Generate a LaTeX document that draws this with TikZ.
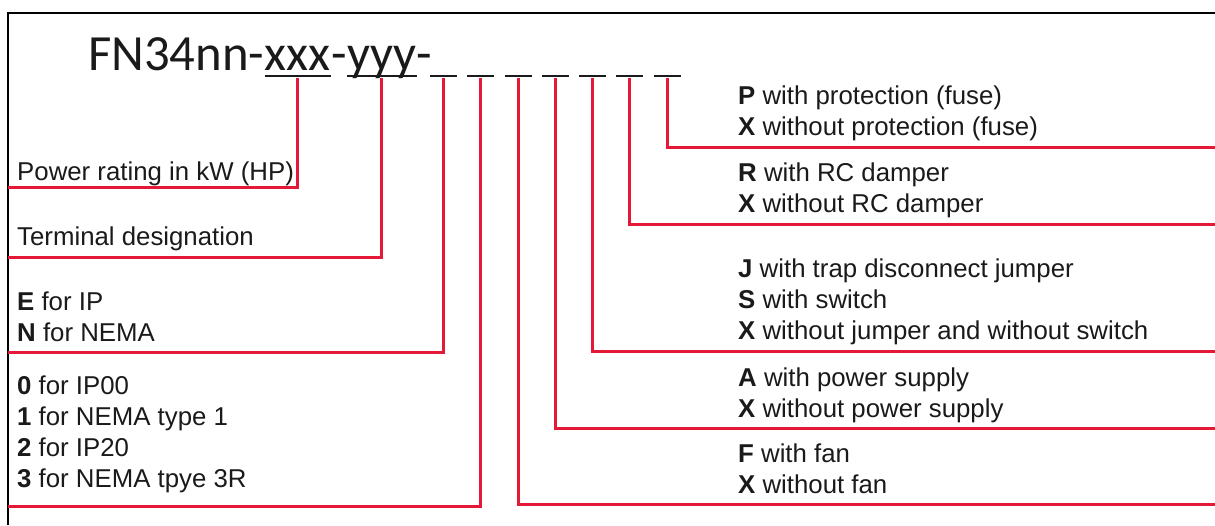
\documentclass[tikz,border=0pt]{standalone}
\usepackage{fontspec}
\setmainfont{Liberation Sans}
\newfontfamily\titlefont{Carlito}
\usetikzlibrary{calc}
\definecolor{codered}{HTML}{E31937}
\definecolor{ink}{HTML}{1A1A1A}
\begin{document}
\begin{tikzpicture}[x=1pt,y=-1pt,
  lbl/.style={anchor=base west,inner sep=0pt,font=\fontsize{25.8}{31}\selectfont,text=ink},
  ttl/.style={anchor=base west,inner sep=0pt,font=\titlefont\fontsize{50.7}{60}\selectfont,text=ink},
  lead/.style={draw=codered,line width=3pt},
  uline/.style={draw=ink,line width=2.5pt},
  frame/.style={draw=black,line width=2.5pt}]
\useasboundingbox (0,0) rectangle (1215,525);
% frame
\draw[frame] (8,525) -- (8,13) -- (1215,13);
% title
\node[ttl] (t1) at (88,70) {FN34nn-};
\node[ttl] (xxx) at (t1.base east) {xxx};
\node[ttl] (t2) at (xxx.base east) {-};
\node[ttl] (yyy) at (t2.base east) {yyy};
\node[ttl] (t3) at (yyy.base east) {-};
\draw[uline] ($(xxx.base west)+(0,6)$) -- ($(xxx.base east)+(0,6)$);
\draw[uline] ($(yyy.base west)+(0,6)$) -- ($(yyy.base east)+(0,6)$);
\coordinate (ux) at ($(xxx.base)+(0,7.5)$);
\coordinate (uy) at ($(yyy.base)+(0,7.5)$);
% blank positions
\foreach \i in {1,...,7}{
  \coordinate (d\i) at ({443.5+37.25*(\i-1)},76);
  \coordinate (c\i) at ({443.5+37.25*(\i-1)},77.5);
  \draw[uline] ($(d\i)+(-13.5,0)$) -- ($(d\i)+(13.5,0)$);
}
% left labels
\node[lbl] (pwr) at (17,180) {Power rating in kW (HP)};
\node[lbl] (term) at (17,245) {Terminal designation};
\node[lbl] (encl) at (17,310) {\begin{tabular}[t]{@{}l@{}}\textbf{E} for IP\\\textbf{N} for NEMA\end{tabular}};
\node[lbl] (prot) at (17,394) {\begin{tabular}[t]{@{}l@{}}\textbf{0} for IP00\\\textbf{1} for NEMA type 1\\\textbf{2} for IP20\\\textbf{3} for NEMA tpye 3R\end{tabular}};
% right labels
\node[lbl] (fuse) at (738,104) {\begin{tabular}[t]{@{}l@{}}\textbf{P} with protection (fuse)\\\textbf{X} without protection (fuse)\end{tabular}};
\node[lbl] (rc) at (738,181) {\begin{tabular}[t]{@{}l@{}}\textbf{R} with RC damper\\\textbf{X} without RC damper\end{tabular}};
\node[lbl] (jump) at (738,277) {\begin{tabular}[t]{@{}l@{}}\textbf{J} with trap disconnect jumper\\\textbf{S} with switch\\\textbf{X} without jumper and without switch\end{tabular}};
\node[lbl] (psu) at (738,386) {\begin{tabular}[t]{@{}l@{}}\textbf{A} with power supply\\\textbf{X} without power supply\end{tabular}};
\node[lbl] (fan) at (738,462) {\begin{tabular}[t]{@{}l@{}}\textbf{F} with fan\\\textbf{X} without fan\end{tabular}};
% line ends
\coordinate (Lp) at (8,187);
\coordinate (Lt) at (8,257);
\coordinate (Le) at (8,352);
\coordinate (Ln) at (8,506);
\coordinate (Rf) at (1215,147);
\coordinate (Rr) at (1215,224);
\coordinate (Rj) at (1215,351);
\coordinate (Ra) at (1215,428);
\coordinate (Rn) at (1215,504);
% leaders
\draw[lead] (ux) |- (Lp);
\draw[lead] (uy) |- (Lt);
\draw[lead] (c1) |- (Le);
\draw[lead] (c2) |- (Ln);
\draw[lead] (c3) |- (Rn);
\draw[lead] (c4) |- (Ra);
\draw[lead] (c5) |- (Rj);
\draw[lead] (c6) |- (Rr);
\draw[lead] (c7) |- (Rf);
\end{tikzpicture}
\end{document}
